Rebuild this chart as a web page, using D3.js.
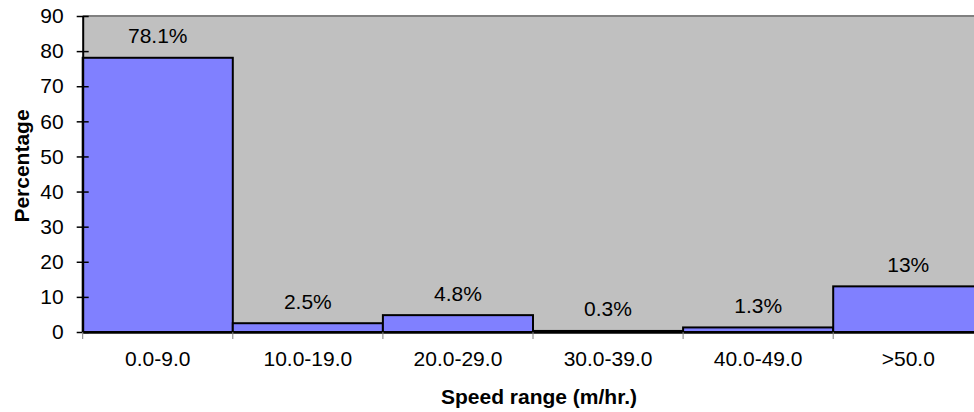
<!DOCTYPE html>
<html>
<head>
<meta charset="utf-8">
<script src="https://cdn.jsdelivr.net/npm/d3@7"></script>
<style>
  body { margin: 0; background: #fff; }
  svg { display: block; font-family: "Liberation Sans", Arial, sans-serif; }
</style>
</head>
<body>
<div id="chart"></div>
<script>
// Data
const categories = ["0.0-9.0", "10.0-19.0", "20.0-29.0", "30.0-39.0", "40.0-49.0", ">50.0"];
const percentages = [78.1, 2.5, 4.8, 0.3, 1.3, 13];
const barLabels = ["78.1%", "2.5%", "4.8%", "0.3%", "1.3%", "13%"];
const yTicks = [0, 10, 20, 30, 40, 50, 60, 70, 80, 90];

// Set SVG parameters
const svgWidth = 974;
const svgHeight = 412;

const margin = { top: 16, left: 82.7, bottom: 80 };
const plotWidth = 150.1 * categories.length;
const height = svgHeight - margin.top - margin.bottom;
const fontSize = "21px";

const svg = d3.select("#chart")
    .append("svg")
    .attr("width", svgWidth)
    .attr("height", svgHeight);

const chartGroup = svg.append("g")
    .attr("transform", `translate(${margin.left}, ${margin.top})`);

// Scales
const xScale = d3.scaleBand()
    .domain(categories)
    .range([0, plotWidth])
    .padding(0);

const yScale = d3.scaleLinear()
    .domain([0, 90])
    .range([height, 0]);

// Plot background
chartGroup.append("rect")
    .attr("x", 0)
    .attr("y", 0)
    .attr("width", plotWidth)
    .attr("height", height)
    .attr("fill", "#c0c0c0");

chartGroup.append("line")
    .attr("x1", 0).attr("x2", plotWidth)
    .attr("y1", 0).attr("y2", 0)
    .attr("stroke", "#808080")
    .attr("stroke-width", 2);

// Bars
chartGroup.selectAll(".bar")
    .data(percentages)
    .join("rect")
    .attr("class", "bar")
    .attr("x", (d, i) => xScale(categories[i]))
    .attr("y", d => yScale(d))
    .attr("width", xScale.bandwidth())
    .attr("height", d => height - yScale(d))
    .attr("fill", "#8080ff")
    .attr("stroke", "black")
    .attr("stroke-width", 2);

// Value labels
chartGroup.selectAll(".val")
    .data(percentages)
    .join("text")
    .attr("class", "val")
    .attr("x", (d, i) => xScale(categories[i]) + xScale.bandwidth() / 2)
    .attr("y", d => yScale(d) - 14.5)
    .attr("text-anchor", "middle")
    .attr("font-size", fontSize)
    .attr("fill", "#000")
    .text((d, i) => barLabels[i]);

// Y axis
const leftAxis = d3.axisLeft(yScale)
    .tickValues(yTicks)
    .tickSizeInner(6)
    .tickSizeOuter(0)
    .tickPadding(13);

const yAxisG = chartGroup.append("g").call(leftAxis);
yAxisG.select(".domain").attr("stroke", "black").attr("stroke-width", 2);
yAxisG.selectAll(".tick line")
    .attr("x1", -6).attr("x2", 6)
    .attr("stroke", "black").attr("stroke-width", 1.5);
yAxisG.selectAll(".tick text")
    .attr("font-size", fontSize)
    .attr("font-family", "Liberation Sans, Arial, sans-serif")
    .attr("fill", "#000");

// X axis
const xAxisG = chartGroup.append("g")
    .attr("transform", `translate(0, ${height})`)
    .call(d3.axisBottom(xScale).tickSize(0).tickPadding(19));
xAxisG.select(".domain").attr("stroke", "black").attr("stroke-width", 2.5);
xAxisG.selectAll(".tick text")
    .attr("font-size", fontSize)
    .attr("font-family", "Liberation Sans, Arial, sans-serif")
    .attr("fill", "#000");

// Category separators below axis
xAxisG.selectAll(".sep")
    .data(d3.range(categories.length + 1))
    .join("line")
    .attr("class", "sep")
    .attr("x1", i => i * xScale.step())
    .attr("x2", i => i * xScale.step())
    .attr("y1", 0)
    .attr("y2", 7)
    .attr("stroke", "#808080")
    .attr("stroke-width", 1);

// Axis titles
svg.append("text")
    .attr("x", 539)
    .attr("y", 404)
    .attr("text-anchor", "middle")
    .attr("font-size", "21px")
    .attr("font-weight", "bold")
    .text("Speed range (m/hr.)");

svg.append("text")
    .attr("transform", "translate(28.5, 166) rotate(-90)")
    .attr("text-anchor", "middle")
    .attr("font-size", "21px")
    .attr("font-weight", "bold")
    .text("Percentage");
</script>
</body>
</html>
